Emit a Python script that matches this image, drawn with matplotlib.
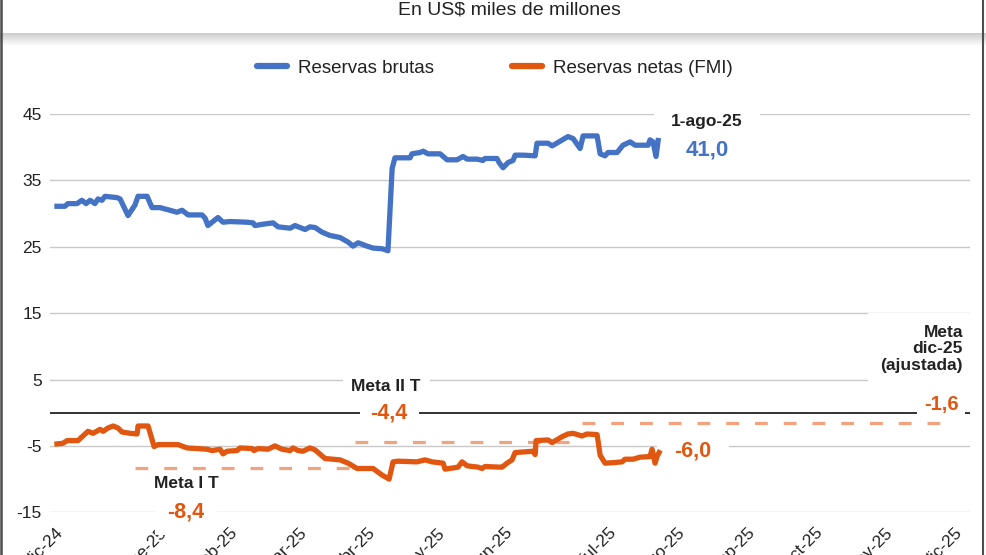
import numpy as np
import matplotlib.pyplot as plt
from matplotlib.lines import Line2D

plt.rcParams['font.family'] = ['Liberation Sans', 'DejaVu Sans']

# eje x: dias sobre el eje del grafico (0 = borde izquierdo, 395 = borde derecho)
bruta_dia = [3.0, 6.4, 7.7, 11.6, 13.7, 15.5, 17.2, 19.3, 20.6, 22.3, 23.6, 28.8, 30.1, 33.5,
             36.5, 37.8, 41.7, 43.8, 47.2, 51.5, 54.5, 56.7, 59.3, 62.3, 65.3, 66.6, 67.8, 72.1,
             74.3, 77.3, 84.6, 87.2, 88.0, 91.5, 95.8, 97.9, 103.1, 105.2, 109.5, 111.6, 113.8,
             116.8, 120.2, 124.5, 128.0, 130.1, 132.3, 136.1, 138.7, 142.6, 145.1, 146.9, 148.1,
             154.6, 155.4, 158.9, 160.2, 162.3, 167.5, 170.5, 174.8, 177.3, 179.1, 183.4, 185.9,
             186.8, 191.9, 192.8, 194.5, 196.7, 198.8, 199.7, 203.1, 208.3, 209.1, 213.8, 215.6,
             222.4, 224.6, 227.6, 228.9, 234.9, 236.2, 238.3, 239.6, 243.5, 246.0, 249.1, 251.2,
             253.3, 256.8, 257.6, 258.9, 260.2, 261.1]
bruta_val = [31.1, 31.1, 31.5, 31.5, 32.0, 31.5, 32.0, 31.5, 32.2, 32.0, 32.6, 32.4, 32.2, 29.7,
             31.3, 32.6, 32.6, 30.9, 30.9, 30.5, 30.2, 30.5, 29.8, 29.8, 29.8, 29.3, 28.2, 29.4,
             28.7, 28.8, 28.7, 28.6, 28.2, 28.4, 28.6, 28.0, 27.8, 28.2, 27.6, 28.0, 27.9,
             27.2, 26.7, 26.4, 25.7, 25.1, 25.6, 25.1, 24.8, 24.7, 24.4, 36.8, 38.4,
             38.4, 39.0, 39.2, 39.4, 39.0, 39.0, 38.1, 38.1, 38.6, 38.2, 38.2, 38.0,
             38.3, 38.3, 37.7, 36.9, 37.7, 38.0, 38.8, 38.8, 38.7, 40.6, 40.6, 40.2,
             41.6, 41.3, 39.8, 41.7, 41.7, 39.0, 38.7, 39.2, 39.2, 40.3, 40.8, 40.3,
             40.3, 40.3, 41.1, 40.8, 38.6, 41.0]

neta_dia = [3.0, 5.6, 7.3, 12.0, 16.3, 18.5, 21.5, 22.8, 24.9, 27.1, 29.2, 30.9, 34.4, 37.4,
            37.8, 42.1, 44.7, 46.4, 55.0, 58.8, 67.4, 69.6, 73.0, 74.3, 76.0, 80.3, 81.6, 86.7,
            87.6, 89.3, 93.6, 96.6, 99.6, 103.1, 104.3, 106.5, 108.6, 111.6, 113.8, 118.1, 124.5,
            128.0, 131.8, 138.7, 142.6, 145.6, 147.3, 149.4, 157.6, 161.0, 164.0, 168.8, 169.6,
            175.2, 176.9, 179.1, 183.8, 185.5, 186.8, 193.2, 194.1, 196.2, 198.4, 199.7, 207.4,
            208.3, 208.7, 213.8, 215.6, 219.9, 222.4, 224.6, 228.4, 230.6, 234.9, 236.2, 238.3,
            242.6, 245.6, 246.9, 250.3, 253.3, 257.6, 258.5, 259.8, 260.6, 261.5]
neta_val = [-4.7, -4.6, -4.2, -4.2, -2.8, -3.1, -2.5, -2.8, -2.3, -2.0, -2.3, -2.9, -3.1, -3.2,
            -2.0, -2.0, -5.1, -4.8, -4.8, -5.3, -5.5, -5.7, -5.5, -6.2, -5.8, -5.7, -5.3, -5.4,
            -5.7, -5.4, -5.5, -5.0, -5.5, -5.7, -5.3, -5.7, -5.8, -5.3, -5.6, -6.9, -7.1,
            -7.6, -8.4, -8.4, -9.4, -10.0, -7.4, -7.3, -7.4, -7.1, -7.4, -7.6, -8.5,
            -8.2, -7.4, -8.0, -8.2, -8.4, -8.1, -8.2, -8.2, -7.6, -7.1, -6.0, -5.8,
            -6.3, -4.2, -4.1, -4.5, -3.6, -3.2, -3.1, -3.5, -3.2, -3.3, -6.4, -7.6,
            -7.5, -7.4, -7.0, -7.0, -6.7, -6.6, -5.5, -7.6, -6.6, -6.0]

meta_desde = [36.5, 131.0, 228.4]
meta_hasta = [128.8, 225.4, 385.1]
meta_val = [-8.4, -4.4, -1.6]

mes_labels = ['dic-24', 'ene-25', 'feb-25', 'mar-25', 'abr-25', 'may-25', 'jun-25',
              'jul-25', 'ago-25', 'sep-25', 'oct-25', 'nov-25', 'dic-25']
mes_pos = [2.1, 46.8, 77.3, 106.9, 136.1, 166.2, 195.4, 240.0, 269.2, 299.3, 328.5, 358.5, 388.1]
y_ticks = [-15, -5, 5, 15, 25, 35, 45]

azul = '#4472C4'
naranja = '#E2570F'
naranja_claro = '#F2A27C'
gris = '#222222'


def fmt(v):
    return f'{v:.1f}'.replace('.', ',')


fig = plt.figure(figsize=(9.87, 5.55), dpi=100)
ax = fig.add_axes([50 / 987, 42.7 / 555, 920 / 987, 398.3 / 555])
ax.set_xlim(0, 395)
ax.set_ylim(-15, 45)
for s in ax.spines.values():
    s.set_visible(False)

for y in y_ticks:
    ax.axhline(y, color='#c9c9c9', lw=1, zorder=1)
ax.axhline(0, color='#333333', lw=1.4, zorder=1)

ax.set_yticks(y_ticks)
ax.set_yticklabels([str(y) for y in y_ticks])
ax.set_xticks(mes_pos)
ax.set_xticklabels(mes_labels, rotation=45, ha='right', rotation_mode='anchor')
ax.tick_params(axis='both', length=0, labelsize=12.5, colors=gris)
ax.tick_params(axis='y', pad=6)
ax.tick_params(axis='x', pad=9)

# metas (lineas punteadas)
ax.hlines(meta_val, meta_desde, meta_hasta, colors=naranja_claro, lw=2.3,
          linestyles=[(0, (4, 5))], zorder=3)

ax.plot(bruta_dia, bruta_val, color=azul, lw=3.8, zorder=4, solid_joinstyle='round')
ax.plot(neta_dia, neta_val, color=naranja, lw=3.8, zorder=5, solid_joinstyle='round')


def etiqueta(x, y, s, color, size, pad, z=2.0, **kw):
    ax.text(x, y, s, color=color, fontsize=size, fontweight='bold', ha='center', va='center',
            zorder=z, bbox=dict(boxstyle=f'square,pad={pad}', fc='white', ec='none'), **kw)


# ultimo dato
etiqueta(282.1, 43.8, '1-ago-25', gris, 12.5, 1.0)
etiqueta(282.1, 39.6, fmt(bruta_val[-1]), azul, 16, 0.2)
etiqueta(276.1, -5.75, fmt(neta_val[-1]), naranja, 15.5, 0.8)

# metas
etiqueta(58.4, -10.6, 'Meta I T', gris, 12.5, 0.3, z=2.5)
etiqueta(58.4, -14.95, fmt(meta_val[0]), naranja, 15.5, 0.6)
etiqueta(144.3, 3.9, 'Meta II T', gris, 12.5, 0.5, z=2.5)
etiqueta(145.6, 0.0, fmt(meta_val[1]), naranja, 15.5, 0.5)
ax.text(392.0, 9.6, 'Meta\ndic-25\n(ajustada)', color=gris, fontsize=12.5, fontweight='bold',
        ha='right', va='center', multialignment='right', linespacing=1.15, zorder=2.5,
        bbox=dict(boxstyle='square,pad=0.7', fc='white', ec='none'))
etiqueta(382.6, 1.2, fmt(meta_val[2]), naranja, 14.5, 0.35)

# leyenda
handles = [Line2D([], [], color=azul, lw=4.5, solid_capstyle='round'),
           Line2D([], [], color=naranja, lw=4.5, solid_capstyle='round')]
fig.legend(handles, ['Reservas brutas', 'Reservas netas (FMI)'], loc='center',
           bbox_to_anchor=(0.5015, 1 - 68 / 555), ncol=2, frameon=False, fontsize=13.5,
           handlelength=1.6, handletextpad=0.55, columnspacing=4.2, labelcolor=gris)

# encabezado
fig.text(509 / 987, 1 - 10 / 555, 'En US$ miles de millones', ha='center', va='center',
         fontsize=14, color=gris)
sombra = fig.add_axes([0, 1 - 46 / 555, 1, 13 / 555], zorder=-1)
grad = np.linspace(0.80, 1.0, 50).reshape(-1, 1)
sombra.imshow(grad, cmap='gray', vmin=0, vmax=1, aspect='auto', extent=(0, 1, 0, 1))
sombra.axis('off')

# bordes
fig.add_artist(Line2D([1 / 987, 1 / 987], [0, 1], color='#4d4d4d', lw=1.8))
fig.add_artist(Line2D([983 / 987, 983 / 987], [0, 1], color='#4d4d4d', lw=1.5))

fig.savefig('out.png', dpi=100)
